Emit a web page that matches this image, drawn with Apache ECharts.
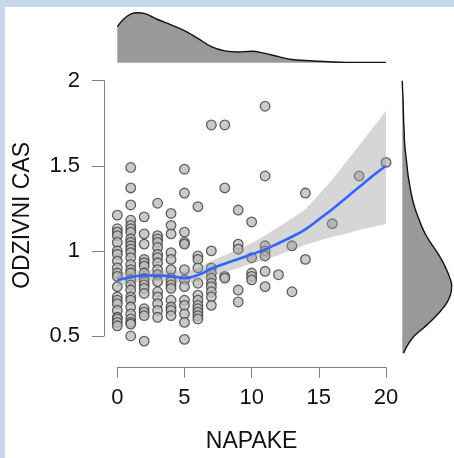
<!DOCTYPE html>
<html>
<head>
<meta charset="utf-8">
<script src="https://cdn.jsdelivr.net/npm/echarts@6/dist/echarts.min.js"></script>
<style>
  html, body { margin: 0; padding: 0; background: #c6d8e9; }
  #paper { position: absolute; left: 5px; top: 7px; width: 449px; height: 451px; background: #fff; }
  #chart { position: absolute; left: 0; top: 0; width: 454px; height: 458px; }
</style>
</head>
<body>
<div id="paper"></div>
<div id="chart"></div>
<script>
// NAPAKE levels and the ODZIVNI CAS values seen in each column
const napakeLevels = [0, 1, 2, 3, 4, 5, 6, 7, 8, 9, 10, 11, 12, 13, 14, 16, 18, 20];
const odzivniCas = [
  [1.21, 1.13, 1.11, 1.09, 1.05, 1.00, 0.98, 0.94, 0.90, 0.87, 0.85, 0.79, 0.73, 0.71, 0.69, 0.65, 0.61, 0.60, 0.58, 0.56],
  [1.49, 1.37, 1.27, 1.18, 1.15, 1.13, 1.11, 1.07, 1.05, 1.03, 1.01, 0.99, 0.96, 0.92, 0.89, 0.87, 0.83, 0.80, 0.77, 0.73, 0.71, 0.67, 0.63, 0.60, 0.58, 0.57, 0.50],
  [1.20, 1.10, 1.04, 0.95, 0.93, 0.91, 0.87, 0.84, 0.82, 0.80, 0.78, 0.75, 0.66, 0.64, 0.62, 0.47],
  [1.28, 1.09, 1.07, 1.05, 1.02, 0.98, 0.96, 0.93, 0.89, 0.86, 0.82, 0.76, 0.73, 0.69, 0.65, 0.61],
  [1.22, 1.15, 1.10, 0.99, 0.95, 0.89, 0.84, 0.82, 0.80, 0.78, 0.71, 0.67, 0.65, 0.62],
  [1.48, 1.34, 1.11, 1.05, 1.04, 0.89, 0.83, 0.79, 0.71, 0.68, 0.63, 0.58, 0.48],
  [1.26, 0.97, 0.95, 0.90, 0.81, 0.74, 0.71, 0.68, 0.66, 0.64, 0.62, 0.60],
  [1.74, 1.00, 0.90, 0.87, 0.84, 0.81, 0.79, 0.76, 0.73, 0.68],
  [1.74, 1.37, 0.85, 0.84],
  [1.24, 1.04, 1.01, 0.77, 0.70],
  [1.17, 0.96, 0.87, 0.85, 0.83],
  [1.85, 1.44, 1.03, 1.00, 0.97, 0.88, 0.79],
  [0.86],
  [1.03, 0.76],
  [1.34, 0.95],
  [1.16],
  [1.44],
  [1.52]
];

// loess fit and its confidence band
const fitX = [0, 1, 2, 3, 4, 5, 6, 7, 8, 9, 10, 11, 12, 13, 14, 15, 16, 17, 18, 19, 20];
const fitY = [0.829, 0.845, 0.856, 0.855, 0.852, 0.840, 0.858, 0.895, 0.925, 0.952, 0.980, 1.008, 1.045, 1.083, 1.127, 1.185, 1.245, 1.310, 1.375, 1.440, 1.500];
const bandLow = [0.79, 0.81, 0.825, 0.825, 0.82, 0.805, 0.82, 0.85, 0.875, 0.90, 0.925, 0.95, 0.975, 1.005, 1.035, 1.06, 1.083, 1.10, 1.125, 1.14, 1.158];
const bandHigh = [0.87, 0.88, 0.89, 0.888, 0.885, 0.878, 0.898, 0.94, 0.975, 1.01, 1.045, 1.09, 1.14, 1.19, 1.245, 1.33, 1.42, 1.52, 1.62, 1.72, 1.824];

// marginal density of NAPAKE (top)
const densNapakeX = [0, 0.5, 1, 1.5, 2, 3, 4, 5, 6, 7, 8, 9, 10, 11, 12, 13, 14, 15, 16, 17, 18, 19, 20];
const densNapake = [0.101, 0.123, 0.136, 0.140, 0.138, 0.121, 0.106, 0.090, 0.068, 0.045, 0.033, 0.030, 0.032, 0.026, 0.017, 0.009, 0.006, 0.004, 0.002, 0.001, 0.001, 0.001, 0.001];

// marginal density of ODZIVNI CAS (right), at 0.40 .. 2.00
const densCasY = ['0.40', '0.45', '0.50', '0.55', '0.60', '0.65', '0.70', '0.75', '0.80', '0.85', '0.90', '0.95', '1.00', '1.05', '1.10', '1.15', '1.20', '1.25', '1.30', '1.35', '1.40', '1.45', '1.50', '1.55', '1.60', '1.65', '1.70', '1.75', '1.80', '1.85', '1.90', '1.95', '2.00'];
const densCas = [0.05, 0.23, 0.50, 0.91, 1.30, 1.64, 1.91, 2.06, 2.10, 2.00, 1.85, 1.67, 1.45, 1.20, 0.98, 0.81, 0.67, 0.54, 0.44, 0.36, 0.30, 0.24, 0.20, 0.16, 0.12, 0.09, 0.08, 0.06, 0.05, 0.04, 0.03, 0.01, 0.00];

const font = "'Liberation Sans', Arial, sans-serif";
const axisGray = '#808080';

const points = [];
napakeLevels.forEach((n, i) => {
  odzivniCas[i].forEach(v => points.push([n, v]));
});

// confidence band as one polygon, upper edge then lower edge back
const renderBand = (params, api) => {
  if (params.dataIndex !== 0) return null;
  const upper = fitX.map((x, i) => api.coord([x, bandHigh[i]]));
  const lower = fitX.map((x, i) => api.coord([x, bandLow[i]])).reverse();
  return {
    type: 'polygon',
    shape: { points: upper.concat(lower) },
    style: { fill: 'rgba(153,153,153,0.4)', stroke: null }
  };
};

const chart = echarts.init(document.getElementById('chart'));
chart.setOption({
  animation: false,
  textStyle: { fontFamily: font },
  grid: [
    { left: 117.3, right: 68, top: 80.7, bottom: 122 },
    { left: 117.3, right: 68, top: 12.7, bottom: 395.3 },
    { left: 402.3, right: 2.3, top: 80.7, bottom: 104.7 }
  ],
  xAxis: [
    {
      gridIndex: 0,
      type: 'value',
      min: 0,
      max: 20,
      interval: 5,
      offset: 31.7,
      name: 'NAPAKE',
      nameLocation: 'middle',
      nameGap: 62,
      nameTextStyle: { fontSize: 23, color: '#111', fontFamily: font },
      axisLine: { onZero: false, lineStyle: { color: axisGray, width: 1 } },
      axisTick: { length: 10, lineStyle: { color: axisGray } },
      axisLabel: { fontSize: 22, color: '#111', margin: 19, fontFamily: font },
      splitLine: { show: false }
    },
    { gridIndex: 1, type: 'value', min: 0, max: 20, show: false },
    { gridIndex: 2, type: 'value', min: 0, max: 2.1, show: false }
  ],
  yAxis: [
    {
      gridIndex: 0,
      type: 'value',
      min: 0.5,
      max: 2,
      interval: 0.5,
      offset: 13.3,
      name: 'ODZIVNI CAS',
      nameLocation: 'middle',
      nameGap: 70,
      nameTextStyle: { fontSize: 23, color: '#111', fontFamily: font, padding: [0, 0, 0, -14] },
      axisLine: { show: true, onZero: false, lineStyle: { color: axisGray, width: 1 } },
      axisTick: { show: true, length: 12, lineStyle: { color: axisGray } },
      axisLabel: { fontSize: 22, color: '#111', margin: 24, fontFamily: font },
      splitLine: { show: false }
    },
    { gridIndex: 1, type: 'value', min: 0, max: 0.14, show: false },
    { gridIndex: 2, type: 'category', data: densCasY, boundaryGap: false, show: false }
  ],
  series: [
    {
      type: 'scatter',
      xAxisIndex: 0,
      yAxisIndex: 0,
      data: points,
      symbolSize: 9.6,
      clip: false,
      z: 2,
      itemStyle: { color: '#bdbdbd', borderColor: '#3d3d3d', borderWidth: 1.3 }
    },
    {
      type: 'custom',
      xAxisIndex: 0,
      yAxisIndex: 0,
      data: fitX.map((x, i) => [x, bandLow[i], bandHigh[i]]),
      encode: { x: 0, y: [1, 2] },
      renderItem: renderBand,
      silent: true,
      z: 3
    },
    {
      type: 'line',
      xAxisIndex: 0,
      yAxisIndex: 0,
      data: fitX.map((x, i) => [x, fitY[i]]),
      smooth: 0.4,
      symbol: 'none',
      lineStyle: { color: '#3366ff', width: 2.6 },
      z: 4
    },
    {
      type: 'line',
      xAxisIndex: 1,
      yAxisIndex: 1,
      data: densNapakeX.map((x, i) => [x, densNapake[i]]),
      smooth: 0.4,
      symbol: 'none',
      lineStyle: { color: '#111', width: 1.4 },
      areaStyle: { color: '#999999', opacity: 1 }
    },
    {
      type: 'line',
      xAxisIndex: 2,
      yAxisIndex: 2,
      data: densCas,
      smooth: 0.4,
      symbol: 'none',
      lineStyle: { color: '#111', width: 1.4 },
      areaStyle: { color: '#999999', opacity: 1 }
    }
  ]
});
</script>
</body>
</html>
